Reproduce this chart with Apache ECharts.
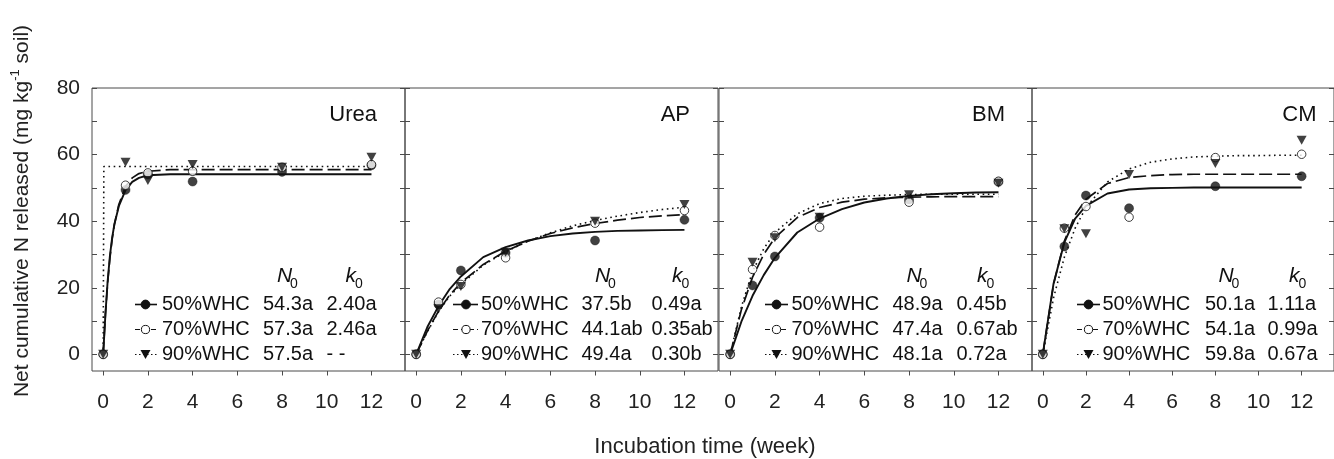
<!DOCTYPE html>
<html><head><meta charset="utf-8">
<script src="https://cdn.jsdelivr.net/npm/echarts@6/dist/echarts.min.js"></script>
<style>html,body{margin:0;padding:0;background:#fff}#c{width:1334px;height:459px}</style>
</head><body><div id="c"></div>
<script>
// ---------- data ----------
const weeks = [0, 1, 2, 4, 8, 12];
const panelNames = ['Urea', 'AP', 'BM', 'CM'];
const seriesNames = ['50%WHC', '70%WHC', '90%WHC'];
const xTickValues = [0, 2, 4, 6, 8, 10, 12];
const yTickValues = [0, 10, 20, 30, 40, 50, 60, 70, 80];
const yLabelValues = [0, 20, 40, 60, 80];

// observed values (mg kg-1 soil)
const ureaObs50 = [0, 49.4, 54.0, 51.9, 54.8, 56.8];
const ureaObs70 = [0, 50.8, 54.5, 55.0, 56.2, 57.0];
const ureaObs90 = [0, 57.7, 52.2, 57.0, 56.2, 59.2];
const apObs50 = [0, 15.0, 25.2, 30.5, 34.2, 40.4];
const apObs70 = [0, 15.7, 21.0, 29.0, 39.4, 43.2];
const apObs90 = [0, 13.7, 20.4, 30.7, 40.0, 45.0];
const bmObs50 = [0, 20.7, 29.4, 41.0, 46.5, 51.8];
const bmObs70 = [0, 25.5, 35.7, 38.2, 45.7, 52.0];
const bmObs90 = [0, 27.7, 35.0, 41.2, 47.9, 51.4];
const cmObs50 = [0, 32.4, 47.7, 43.9, 50.5, 53.5];
const cmObs70 = [0, 37.9, 44.4, 41.2, 59.1, 60.1];
const cmObs90 = [0, 37.7, 36.2, 54.0, 57.3, 64.3];

// fitted curves
const ureaCurveT = [0, 0.1, 0.2, 0.3, 0.4, 0.5, 0.7, 1, 1.3, 1.6, 2, 3, 4, 6, 8, 10, 12];
const ureaFit50 = [0, 12, 22, 29.5, 35, 39, 44.5, 49.3, 51.8, 53.0, 53.8, 54.1, 54.1, 54.1, 54.1, 54.1, 54.1];
const ureaFit70 = [0, 12, 21.5, 28.8, 34.5, 39, 45, 50.4, 53.0, 54.3, 55.0, 55.5, 55.5, 55.5, 55.5, 55.5, 55.5];
const ureaFit90T = [0, 0.03, 12];
const ureaFit90 = [0, 56.4, 56.4];
const curveT = [0, 0.5, 1, 1.5, 2, 3, 4, 5, 6, 7, 8, 9, 10, 11, 12];
const apFit50 = [0, 8.2, 14.5, 19.6, 23.4, 29.2, 32.2, 34.2, 35.5, 36.3, 36.8, 37.1, 37.2, 37.3, 37.4];
const apFit70 = [0, 7.0, 13.0, 17.8, 21.5, 27.0, 31.0, 34.0, 36.3, 38.0, 39.3, 40.3, 41.1, 41.6, 42.0];
const apFit90 = [0, 6.8, 12.8, 17.5, 21.0, 26.8, 30.8, 34.0, 36.5, 38.6, 40.2, 41.5, 42.6, 43.5, 44.2];
const bmFit50 = [0, 9.8, 17.6, 23.8, 29.0, 36.6, 40.8, 43.6, 45.6, 46.8, 47.6, 48.1, 48.4, 48.6, 48.7];
const bmFit70 = [0, 13.4, 23.2, 30.0, 35.0, 41.1, 44.1, 45.7, 46.6, 47.0, 47.2, 47.3, 47.4, 47.4, 47.4];
const bmFit90 = [0, 14.2, 24.9, 31.7, 36.6, 42.2, 45.3, 46.8, 47.5, 47.8, 48.0, 48.1, 48.1, 48.1, 48.1];
const cmFit50 = [0, 21.3, 33.6, 40.8, 44.6, 48.3, 49.5, 49.9, 50.0, 50.1, 50.1, 50.1, 50.1, 50.1, 50.1];
const cmFit70 = [0, 21.1, 34.0, 41.9, 46.6, 51.3, 53.1, 53.7, 54.0, 54.1, 54.1, 54.1, 54.1, 54.1, 54.1];
const cmFit90 = [0, 17.0, 29.2, 37.9, 44.1, 51.8, 55.7, 57.7, 58.7, 59.3, 59.5, 59.7, 59.7, 59.8, 59.8];

// parameter table text
const ureaN0 = ['54.3a', '57.3a', '57.5a'];
const ureaK0 = ['2.40a', '2.46a', '- -'];
const apN0 = ['37.5b', '44.1ab', '49.4a'];
const apK0 = ['0.49a', '0.35ab', '0.30b'];
const bmN0 = ['48.9a', '47.4a', '48.1a'];
const bmK0 = ['0.45b', '0.67ab', '0.72a'];
const cmN0 = ['50.1a', '54.1a', '59.8a'];
const cmK0 = ['1.11a', '0.99a', '0.67a'];

// ---------- assembly ----------
const obs = [[ureaObs50, ureaObs70, ureaObs90], [apObs50, apObs70, apObs90], [bmObs50, bmObs70, bmObs90], [cmObs50, cmObs70, cmObs90]];
const fits = [
  [[ureaCurveT, ureaFit50], [ureaCurveT, ureaFit70], [ureaFit90T, ureaFit90]],
  [[curveT, apFit50], [curveT, apFit70], [curveT, apFit90]],
  [[curveT, bmFit50], [curveT, bmFit70], [curveT, bmFit90]],
  [[curveT, cmFit50], [curveT, cmFit70], [curveT, cmFit90]]
];
const n0s = [ureaN0, apN0, bmN0, cmN0];
const k0s = [ureaK0, apK0, bmK0, cmK0];

const FONT = '"Liberation Sans", Arial, Helvetica, sans-serif';
const INK = '#111';
const AX = '#4a4a4a';
const lefts = [92, 405, 719, 1032];
const W = 313, TOP = 88, H = 283;

const lineStyles = [
  {type: 'solid', width: 1.9},
  {type: [13, 5], width: 1.7},
  {type: [1.6, 3.6], width: 1.6}
];
const triPath = 'path://M0,0L10,0L5,9Z';
const symbolDefs = [
  {symbol: 'circle', symbolSize: 9, itemStyle: {color: INK, borderColor: INK, borderWidth: 0.5}},
  {symbol: 'circle', symbolSize: 8.5, itemStyle: {color: '#fff', borderColor: INK, borderWidth: 1}},
  {symbol: triPath, symbolSize: [10, 9], itemStyle: {color: INK}}
];

const grids = [], xAxes = [], yAxes = [], series = [];
for (let p = 0; p < 4; p++) {
  grids.push({left: lefts[p], top: TOP, width: W, height: H, show: true, borderColor: AX, borderWidth: 1, backgroundColor: 'transparent'});
  xAxes.push({
    gridIndex: p, type: 'value', min: -0.5, max: 13.5, position: 'bottom',
    axisLine: {show: false, onZero: false},
    axisTick: {show: true, length: 4.5, customValues: xTickValues, lineStyle: {color: AX, width: 1}},
    axisLabel: {customValues: xTickValues, fontSize: 21, fontFamily: FONT, color: '#222', margin: 21},
    splitLine: {show: false}
  });
  const yBase = {
    gridIndex: p, type: 'value', min: -5, max: 80,
    axisLine: {show: false, onZero: false},
    axisTick: {show: true, inside: true, length: 5, customValues: yTickValues, lineStyle: {color: AX, width: 1}},
    splitLine: {show: false}
  };
  yAxes.push(Object.assign({}, yBase, {position: 'left',
    axisLabel: {show: p === 0, customValues: yLabelValues, fontSize: 21, fontFamily: FONT, color: '#222', margin: 12}}));
  yAxes.push(Object.assign({}, yBase, {position: 'right', axisLabel: {show: false}}));
  for (let s = 0; s < 3; s++) {
    const [tt, vv] = fits[p][s];
    series.push({
      type: 'line', xAxisIndex: p, yAxisIndex: 2 * p, name: panelNames[p] + ' ' + seriesNames[s] + ' fit',
      data: tt.map((t, i) => [t, vv[i]]), showSymbol: false, symbol: 'none', smooth: false,
      lineStyle: {color: INK, width: lineStyles[s].width, type: lineStyles[s].type}, z: 2, silent: true
    });
  }
  for (let s = 0; s < 3; s++) {
    series.push(Object.assign({
      type: 'scatter', xAxisIndex: p, yAxisIndex: 2 * p, name: panelNames[p] + ' ' + seriesNames[s],
      data: weeks.map((t, i) => [t, obs[p][s][i]]), z: 3 + s, silent: true
    }, symbolDefs[s]));
  }
}

// ---------- in-panel text / key ----------
const lineX1 = [135, 453, 765, 1077];
const lineX2 = [157, 478, 788, 1100];
const symX = [145.5, 466, 776.5, 1088.5];
const textX = [162, 481, 791.5, 1102.5];
const n0X = [263, 581.5, 892.5, 1205];
const k0X = [326.5, 651.5, 956.5, 1267.5];
const hdrNX = [277, 595, 906.5, 1218.5];
const hdrKX = [345.5, 672, 977, 1289];
const titleRight = [377, 690, 1005, 1316.5];
const rowY = [304.5, 329.5, 354.5];
const hdrY = 276.5;

const graphic = [];
const txt = (x, y, text, opts) => graphic.push(Object.assign({type: 'text', x, y, silent: true, z: 10,
  style: Object.assign({text, fill: INK, fontSize: 20, fontFamily: FONT, align: 'left', verticalAlign: 'middle'}, opts || {})}));

for (let p = 0; p < 4; p++) {
  txt(titleRight[p], 115, panelNames[p], {align: 'right', fontSize: 22});
  txt(hdrNX[p], hdrY, 'N', {fontStyle: 'italic', fontSize: 21});
  txt(hdrNX[p] + 13, hdrY + 8, '0', {fontSize: 14});
  txt(hdrKX[p], hdrY, 'k', {fontStyle: 'italic', fontSize: 21});
  txt(hdrKX[p] + 9.5, hdrY + 8, '0', {fontSize: 14});
  for (let s = 0; s < 3; s++) {
    const y = rowY[s];
    graphic.push({type: 'line', silent: true, z: 10, shape: {x1: lineX1[p], y1: y, x2: lineX2[p], y2: y},
      style: {stroke: INK, lineWidth: s === 0 ? 1.6 : 1.2, lineDash: s === 0 ? null : (s === 1 ? [5, 3] : [1.5, 2.5])}});
    if (s === 2) {
      graphic.push({type: 'polygon', silent: true, z: 11, shape: {points: [[symX[p] - 5, y - 4.5], [symX[p] + 5, y - 4.5], [symX[p], y + 4.5]]}, style: {fill: INK}});
    } else {
      graphic.push({type: 'circle', silent: true, z: 11, shape: {cx: symX[p], cy: y, r: s === 0 ? 4.4 : 4.1},
        style: {fill: s === 0 ? INK : '#fff', stroke: INK, lineWidth: 1}});
    }
    txt(textX[p], y, seriesNames[s]);
    txt(n0X[p], y, n0s[p][s]);
    txt(k0X[p], y, k0s[p][s]);
  }
}
// axis titles
txt(705, 447, 'Incubation time (week)', {align: 'center', fontSize: 22, fill: '#222'});
graphic.push({type: 'text', x: 22, y: 211, rotation: Math.PI / 2, silent: true, z: 10,
  style: {text: '{t|Net cumulative N released (mg kg}{s|-1}{t| soil)}', align: 'center', verticalAlign: 'middle',
    rich: {t: {fontSize: 21, fontFamily: FONT, lineHeight: 26, fill: '#222'},
           s: {fontSize: 13, fontFamily: FONT, lineHeight: 13, verticalAlign: 'top', fill: '#222'}}}});

const chart = echarts.init(document.getElementById('c'), null, {renderer: 'canvas'});
chart.setOption({animation: false, backgroundColor: '#fff', grid: grids, xAxis: xAxes, yAxis: yAxes, series, graphic});
</script></body></html>
